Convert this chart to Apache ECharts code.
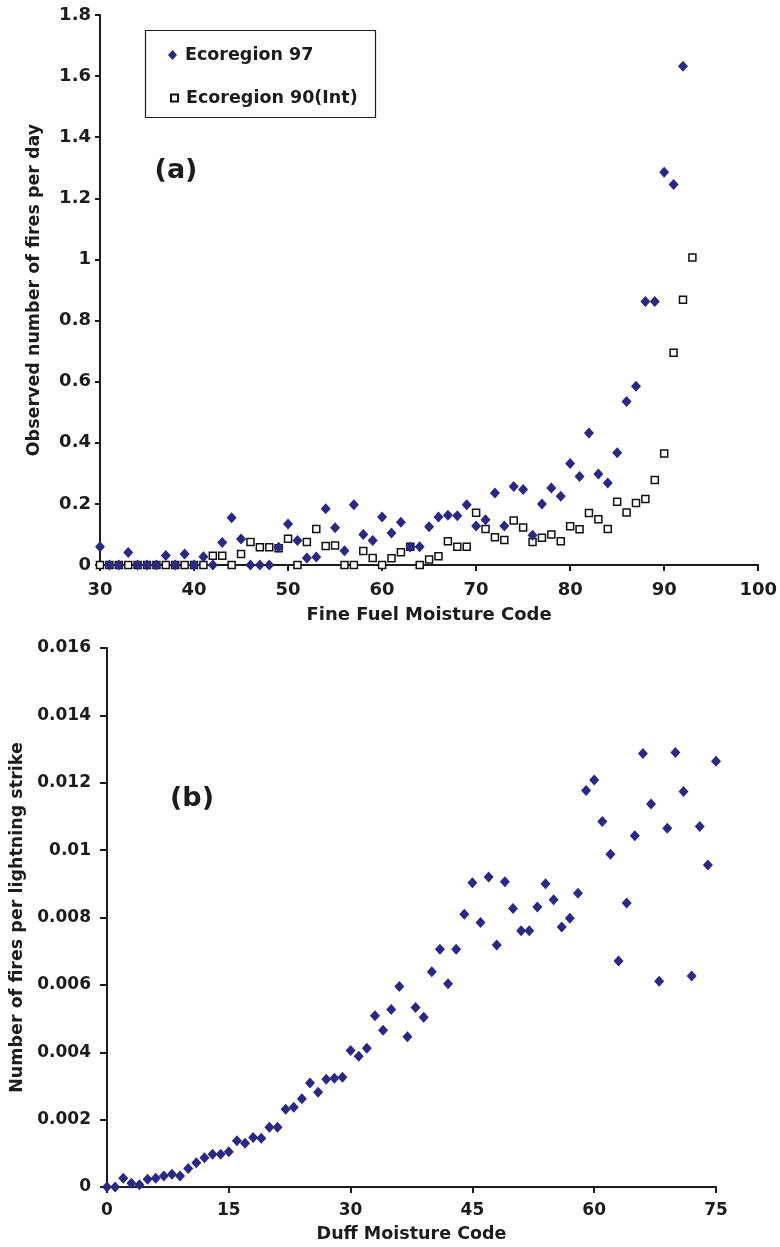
<!DOCTYPE html>
<html>
<head>
<meta charset="utf-8">
<script src="https://cdn.jsdelivr.net/npm/echarts@6/dist/echarts.min.js"></script>
<style>
  html, body { margin: 0; padding: 0; background: #ffffff; }
  #chart { width: 780px; height: 1247px; }
</style>
</head>
<body>
<div id="chart"></div>
<script>
// (a) Observed fires per day against Fine Fuel Moisture Code
const ffmc97 = [30,31,32,33,34,35,36,37,38,39,40,41,42,43,44,45,46,47,48,49,50,51,52,53,54,55,56,57,58,59,60,
  61,62,63,64,65,66,67,68,69,70,71,72,73,74,75,76,77,78,79,80,81,82,83,84,85,86,87,88,89,90,91,92];
const fires97 = [0.06,0,0,0.041,0,0,0,0.031,0,0.036,0,0.027,0,0.074,0.155,0.085,0,0,0,0.058,0.134,
  0.08,0.023,0.026,0.184,0.122,0.047,0.197,0.1,0.08,0.157,
  0.105,0.14,0.059,0.06,0.125,0.157,0.163,0.161,0.197,0.128,
  0.148,0.236,0.128,0.257,0.247,0.097,0.2,0.252,0.225,0.332,
  0.29,0.432,0.298,0.268,0.367,0.535,0.585,0.862,0.862,1.285,1.245,1.632];

const ffmc90 = [30,31,32,33,34,35,36,37,38,39,40,41,42,43,44,45,46,47,48,49,50,51,52,53,54,55,56,57,58,59,60,
  61,62,63,64,65,66,67,68,69,70,71,72,73,74,75,76,77,78,79,80,81,82,83,84,85,86,87,88,89,90,91,92,93];
const fires90 = [0,0,0,0,0,0,0,0,0,0,0,0,0.03,0.03,0,0.036,0.075,0.058,0.058,0.055,0.086,
  0,0.075,0.118,0.062,0.064,0,0,0.046,0.023,0,
  0.022,0.042,0.06,0,0.018,0.029,0.078,0.06,0.06,0.171,
  0.118,0.091,0.082,0.146,0.123,0.075,0.089,0.1,0.078,0.127,
  0.117,0.17,0.15,0.118,0.207,0.172,0.203,0.216,0.278,0.365,0.695,0.868,1.006];

// (b) Fires per lightning strike against Duff Moisture Code
const dmc = [0,1,2,3,4,5,6,7,8,9,10,11,12,13,14,15,16,17,18,19,20,21,22,23,24,25,26,27,28,29,30,
  31,32,33,34,35,36,37,38,39,40,41,42,43,44,45,46,47,48,49,50,51,52,53,54,55,56,57,58,59,60,
  61,62,63,64,65,66,67,68,69,70,71,72,73,74,75];
const firesPerStrike = [0,0,0.00026,0.00011,0.00007,0.00023,0.00026,0.00033,0.00038,0.00033,
  0.00055,0.00072,0.00087,0.00097,0.00097,0.00105,0.00137,0.0013,0.00147,0.00145,
  0.00177,0.00177,0.00231,0.00237,0.00262,0.00309,0.00281,0.0032,0.00323,0.00326,
  0.00405,0.00388,0.00412,0.00508,0.00465,0.00527,0.00595,0.00446,0.00533,0.00504,
  0.00639,0.00706,0.00603,0.00706,0.0081,0.00903,0.00785,0.0092,0.00718,0.00906,
  0.00827,0.00761,0.00761,0.00831,0.009,0.00853,0.00772,0.00798,0.00872,0.01177,
  0.01208,0.01085,0.00988,0.00671,0.00843,0.01043,0.01287,0.01137,0.00611,0.01065,
  0.0129,0.01174,0.00626,0.0107,0.00956,0.01264];

const yTicksA = ['0','0.2','0.4','0.6','0.8','1','1.2','1.4','1.6','1.8'];
const yTicksB = ['0','0.002','0.004','0.006','0.008','0.01','0.012','0.014','0.016'];

const zip = (xs, ys) => xs.map((x, i) => [x, ys[i]]);

const FONT = 'DejaVu Sans';
const INK = '#1c1c1c';
const NAVY = '#2a2785';

const axisLine = { lineStyle: { color: INK, width: 2 } };
const baseLabel = { color: INK, fontFamily: FONT, fontWeight: 'bold' };

const chart = echarts.init(document.getElementById('chart'), null, { renderer: 'canvas' });

chart.setOption({
  backgroundColor: '#ffffff',
  animation: false,
  grid: [
    { left: 100, top: 15, width: 659, height: 550 },
    { left: 107, top: 648, width: 609, height: 539 }
  ],
  xAxis: [
    {
      gridIndex: 0, type: 'value', min: 30, max: 100, interval: 10,
      name: 'Fine Fuel Moisture Code', nameLocation: 'middle', nameGap: 41,
      nameTextStyle: { ...baseLabel, fontSize: 18 },
      axisLine, axisTick: { show: true, length: 6, lineStyle: { color: INK, width: 2 } },
      axisLabel: { ...baseLabel, fontSize: 18, margin: 16 },
      splitLine: { show: false }
    },
    {
      gridIndex: 1, type: 'value', min: 0, max: 75, interval: 15,
      name: 'Duff Moisture Code', nameLocation: 'middle', nameGap: 38,
      nameTextStyle: { ...baseLabel, fontSize: 17.5 },
      axisLine, axisTick: { show: true, length: 6, lineStyle: { color: INK, width: 2 } },
      axisLabel: { ...baseLabel, fontSize: 17, margin: 15 },
      splitLine: { show: false }
    }
  ],
  yAxis: [
    {
      gridIndex: 0, type: 'value', min: 0, max: 1.8, interval: 0.2,
      name: 'Observed number of fires per day', nameLocation: 'middle', nameRotate: 90, nameGap: 57,
      nameTextStyle: { ...baseLabel, fontSize: 17.5 },
      axisLine, axisTick: { show: true, length: 5, lineStyle: { color: INK, width: 2 } },
      axisLabel: { ...baseLabel, fontSize: 18, margin: 9,
        formatter: (v) => yTicksA[Math.round(v / 0.2)] },
      splitLine: { show: false }
    },
    {
      gridIndex: 1, type: 'value', min: 0, max: 0.016, interval: 0.002,
      name: 'Number of fires per lightning strike', nameLocation: 'middle', nameRotate: 90, nameGap: 79,
      nameTextStyle: { ...baseLabel, fontSize: 17.5 },
      axisLine, axisTick: { show: true, length: 7, lineStyle: { color: INK, width: 2 } },
      axisLabel: { ...baseLabel, fontSize: 17, margin: 16,
        formatter: (v) => yTicksB[Math.round(v / 0.002)] },
      splitLine: { show: false }
    }
  ],
  legend: [
    {
      data: [{ name: 'Ecoregion 97', icon: 'diamond' }],
      orient: 'vertical', left: 168, top: 46, padding: 0,
      itemWidth: 9, itemHeight: 10, selectedMode: false,
      textStyle: { ...baseLabel, fontSize: 17.5, padding: [0, 0, 0, 3] }
    },
    {
      data: [{ name: 'Ecoregion 90(Int)', icon: 'rect' }],
      orient: 'vertical', left: 170, top: 89, padding: 0,
      itemWidth: 7, itemHeight: 7, selectedMode: false,
      textStyle: { ...baseLabel, fontSize: 17.5, padding: [0, 0, 0, 3] }
    }
  ],
  graphic: [
    {
      type: 'rect', z: 1, silent: true,
      shape: { x: 145.5, y: 30.5, width: 230, height: 87 },
      style: { fill: '#ffffff', stroke: INK, lineWidth: 1.2 }
    },
    {
      type: 'text', z: 5, x: 176, y: 171,
      style: { text: '(a)', font: 'bold 27px "DejaVu Sans"', fill: INK, textAlign: 'center', textVerticalAlign: 'middle' }
    },
    {
      type: 'text', z: 5, x: 192, y: 799,
      style: { text: '(b)', font: 'bold 27px "DejaVu Sans"', fill: INK, textAlign: 'center', textVerticalAlign: 'middle' }
    }
  ],
  series: [
    {
      name: 'Ecoregion 90(Int)', type: 'scatter', xAxisIndex: 0, yAxisIndex: 0,
      symbol: 'rect', symbolSize: 7, clip: false, z: 2,
      itemStyle: { color: '#ffffff', borderColor: '#111111', borderWidth: 1.5, opacity: 1 },
      data: zip(ffmc90, fires90)
    },
    {
      name: 'Ecoregion 97', type: 'scatter', xAxisIndex: 0, yAxisIndex: 0,
      symbol: 'diamond', symbolSize: [10, 11], clip: false, z: 3,
      itemStyle: { color: NAVY, opacity: 1 },
      data: zip(ffmc97, fires97)
    },
    {
      name: 'DMC', type: 'scatter', xAxisIndex: 1, yAxisIndex: 1,
      symbol: 'diamond', symbolSize: [10, 11], clip: false, z: 3,
      itemStyle: { color: NAVY, opacity: 1 },
      data: zip(dmc, firesPerStrike)
    }
  ]
});
</script>
</body>
</html>
